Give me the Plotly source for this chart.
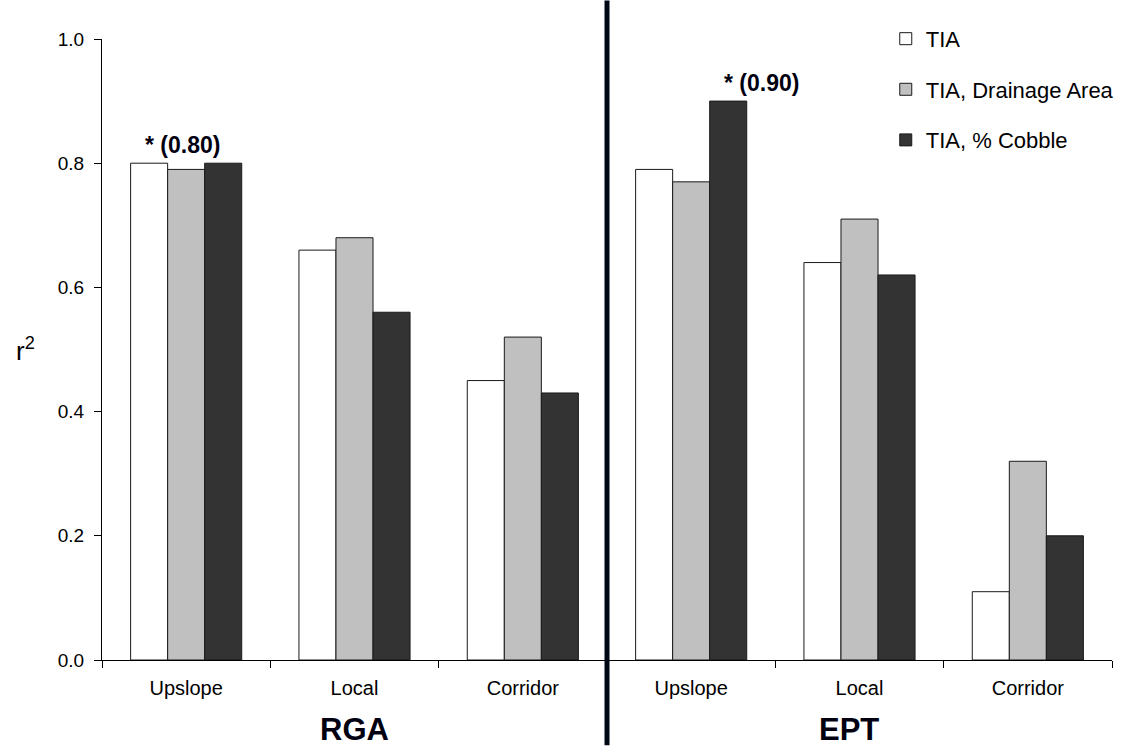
import plotly.graph_objects as go

# Sites within each index, and the two biological indices
sites = ["Upslope", "Local", "Corridor"]
indices = ["RGA", "EPT"]

# r² values per model, ordered RGA (Upslope, Local, Corridor) then EPT (same order)
tia = [0.80, 0.66, 0.45, 0.79, 0.64, 0.11]
tia_drainage = [0.79, 0.68, 0.52, 0.77, 0.71, 0.32]
tia_cobble = [0.80, 0.56, 0.43, 0.90, 0.62, 0.20]

series_names = ["TIA", "TIA, Drainage Area", "TIA, % Cobble"]
series_colors = ["#ffffff", "#c0c0c0", "#333333"]

# best model per index, flagged with an asterisk
best_labels = [("RGA", "Upslope", 0.80), ("EPT", "Upslope", 0.90)]

x_keys = [f"{ix} {s}" for ix in indices for s in sites]
x_text = [s for ix in indices for s in sites]

fig = go.Figure()
for name, vals, col in zip(series_names, [tia, tia_drainage, tia_cobble], series_colors):
    fig.add_trace(go.Bar(
        x=x_keys, y=vals, name=name, legendgroup=name,
        marker=dict(color=col, line=dict(color="#1a1a1a", width=1)),
    ))

font_family = "Liberation Sans, Arial, sans-serif"
annotations = []
shifts = {"RGA": (-43, "left"), "EPT": (31, "left")}
for ix, site, val in best_labels:
    dx, anchor = shifts[ix]
    annotations.append(dict(
        x=f"{ix} {site}", y=val, xref="x", yref="y",
        text=f"<b>* ({val:.2f})</b>", showarrow=False,
        xanchor=anchor, yanchor="bottom", xshift=dx, yshift=3,
        font=dict(size=23, color="#000010", family=font_family),
    ))

# index names under the middle site of each half
for ix, xs in zip(indices, [0, -11]):
    annotations.append(dict(
        x=f"{ix} Local", y=0, xref="x", yref="y",
        text=f"<b>{ix}</b>", showarrow=False, xanchor="center", yanchor="middle",
        xshift=xs, yshift=-69,
        font=dict(size=31, color="#000010", family=font_family),
    ))

annotations.append(dict(
    x=0, y=0.50, xref="paper", yref="paper", text="r<sup>2</sup>",
    showarrow=False, xanchor="center", yanchor="middle", xshift=-77,
    font=dict(size=26, color="#000000", family=font_family),
))

plot_h = 622.0
fig.update_layout(
    width=1139, height=746,
    margin=dict(l=102, r=27, t=38.5, b=85.5, pad=0),
    paper_bgcolor="white", plot_bgcolor="white",
    barmode="group", bargap=0.34, bargroupgap=0,
    font=dict(family=font_family, color="#000000"),
    showlegend=True,
    legend=dict(
        x=0.776, y=1.034, xanchor="left", yanchor="top",
        font=dict(size=22, color="#000000", family=font_family),
        bgcolor="rgba(0,0,0,0)", tracegroupgap=19, traceorder="grouped",
    ),
    xaxis=dict(
        type="category", tickmode="array", tickvals=x_keys, ticktext=x_text,
        tickson="boundaries", ticks="outside", ticklen=7, tickcolor="#000",
        showline=True, linecolor="#000", linewidth=1, showgrid=False,
        tickfont=dict(size=20, color="#000000"), ticklabelstandoff=10,
        range=[-0.5, 5.5],
    ),
    yaxis=dict(
        range=[0, 1.0], tickmode="array", tickvals=[0, 0.2, 0.4, 0.6, 0.8, 1.0],
        tickformat=".1f", ticks="outside", ticklen=7, tickcolor="#000",
        showline=True, linecolor="#000", linewidth=1, showgrid=False, zeroline=False,
        tickfont=dict(size=19, color="#000000"), ticklabelstandoff=6,
    ),
    annotations=annotations,
    shapes=[dict(
        type="line", xref="x", yref="paper", x0=2.5, x1=2.5,
        y0=-85.5 / plot_h, y1=1 + 38.5 / plot_h,
        line=dict(color="#000814", width=5),
    )],
)

fig.write_html("out.html")
